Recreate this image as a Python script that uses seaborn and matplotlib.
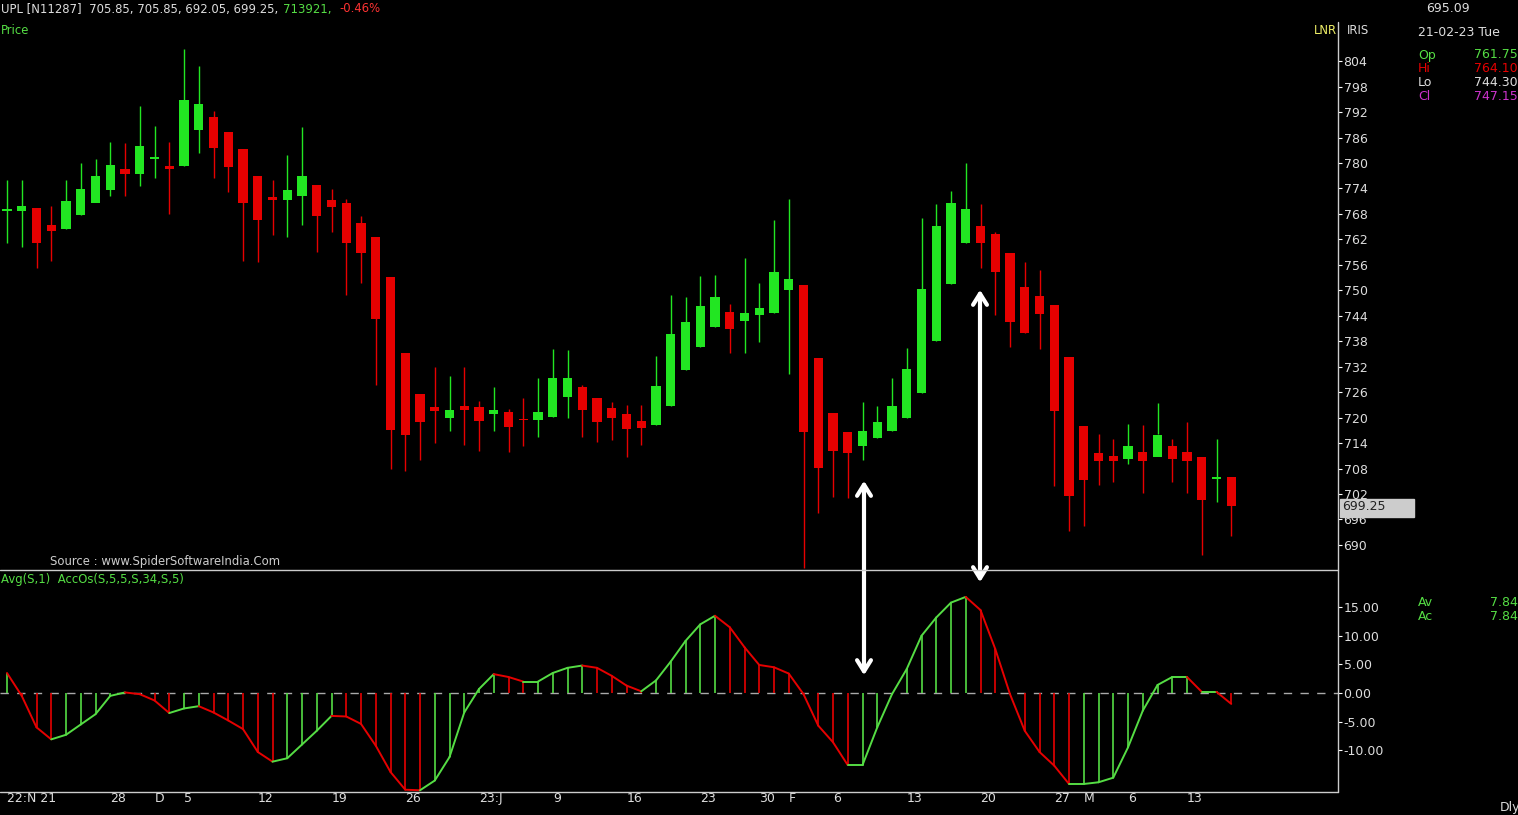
import numpy as np
import pandas as pd
import matplotlib
matplotlib.use("Agg")
import matplotlib.pyplot as plt
import seaborn as sns

# ---- data ----
opens = [768.9,768.7,769.4,765.4,764.4,767.7,770.6,773.6,778.6,777.4,781.2,779.3,779.3,787.8,790.8,787.3,783.3,776.9,772.0,771.3,772.2,774.8,771.3,770.6,765.8,762.6,753.1,735.2,725.6,722.5,720.0,722.8,722.5,720.9,721.3,719.7,719.5,720.2,724.9,727.2,724.6,722.3,720.9,719.2,718.3,722.8,731.2,736.6,741.4,744.9,742.8,744.2,744.7,750.1,751.2,734.1,721.1,716.6,713.3,715.2,716.9,719.9,725.8,738.1,751.5,761.1,765.1,763.3,758.8,750.8,748.7,746.5,734.3,718.0,711.7,711.0,710.3,711.9,710.7,713.3,711.9,710.7,705.8,706.0]
closes = [769.1,769.9,761.1,764.0,771.0,773.9,776.9,779.5,777.4,784.0,781.3,778.6,794.9,793.9,783.5,779.0,770.6,766.6,771.3,773.6,776.9,767.5,769.6,761.1,758.8,743.2,717.1,716.0,719.0,721.6,721.8,721.8,719.2,721.8,717.8,719.6,721.3,729.3,729.3,721.8,719.0,720.0,717.3,717.6,727.5,739.7,742.5,746.3,748.4,740.9,744.7,745.8,754.3,752.6,716.6,708.2,712.2,711.6,716.9,718.9,722.8,731.5,750.3,765.1,770.6,769.1,761.1,754.3,742.5,739.9,744.4,721.6,701.6,705.3,709.8,709.8,713.3,709.8,715.9,710.3,709.8,700.6,706.0,699.25]
highs = [776.0,776.0,769.4,769.9,776.0,780.0,780.9,784.9,784.7,793.4,788.7,784.9,806.8,802.8,792.2,787.3,783.3,776.9,776.0,781.9,788.5,774.8,773.9,771.5,767.5,762.6,753.1,735.2,725.6,731.9,729.8,731.9,723.9,727.2,722.0,724.6,729.3,736.2,735.9,727.7,724.6,723.7,723.0,723.0,734.6,748.9,748.4,753.4,753.6,746.8,757.7,751.8,766.6,771.5,751.2,734.1,721.1,716.6,723.7,722.8,729.3,736.4,767.0,770.3,773.4,780.0,770.4,763.7,758.8,756.7,754.9,746.5,734.3,718.0,716.1,714.9,718.5,718.3,723.5,715.0,719.0,710.7,715.0,705.85]
lows = [761.1,760.2,755.3,756.9,764.4,767.7,772.2,772.2,772.2,774.6,776.4,768.0,779.3,782.3,776.4,773.2,756.9,756.7,763.0,762.6,765.4,759.0,763.7,748.9,751.7,727.7,707.9,707.5,710.0,714.0,716.9,713.6,712.2,716.9,711.9,713.3,715.5,720.2,719.9,715.5,714.3,714.8,710.7,713.6,718.3,722.8,731.2,736.6,741.4,735.2,735.2,737.8,744.7,730.3,684.6,697.6,701.3,701.1,710.0,715.2,716.9,719.9,725.8,738.1,751.5,761.1,755.3,744.2,736.6,739.9,736.2,703.9,693.3,694.5,704.1,704.9,709.1,702.3,716.1,704.9,702.3,687.7,700.1,692.05]
osc = [3.5,-0.5,-6.0,-8.1,-7.3,-5.5,-3.7,-0.5,0.1,-0.2,-1.3,-3.5,-2.7,-2.3,-3.4,-4.8,-6.3,-10.3,-12.0,-11.4,-9.0,-6.6,-4.0,-4.1,-5.4,-9.2,-13.8,-16.9,-17.0,-15.3,-11.2,-3.4,0.7,3.3,2.8,2.0,2.0,3.5,4.4,4.8,4.4,3.0,1.3,0.3,2.2,5.5,9.1,12.0,13.5,11.5,8.0,4.9,4.5,3.4,-0.2,-5.7,-8.6,-12.6,-12.6,-6.0,-0.2,4.2,10.0,13.2,15.8,16.8,14.5,7.7,-0.2,-6.6,-10.3,-12.7,-15.9,-15.9,-15.6,-14.8,-9.5,-3.1,1.4,2.8,2.8,0.2,0.2,-1.9]
price_ticks = [690,696,702,708,714,720,726,732,738,744,750,756,762,768,774,780,786,792,798,804]
osc_ticks = [15,10,5,0,-5,-10]
date_pos = [0,7,10,12,17,22,27,32,37,42,47,51,53,56,61,66,71,73,76,80]
date_lab = ["22:N 21","28","D","5","12","19","26","23:J","9","16","23","30","F","6","13","20","27","M","6","13"]

GREEN = "#22e622"
RED = "#e60000"
LGREEN = "#55dd44"
sns.set_theme(style="dark", rc={"axes.facecolor": "black", "figure.facecolor": "black"})
plt.rcParams['font.family'] = ['DejaVu Sans']

W, H = 1518, 815
fig = plt.figure(figsize=(W / 100, H / 100), dpi=100)
axL = 1338 / W
ax = fig.add_axes([0, 1 - 570 / H, axL, 570 / H])
ax2 = fig.add_axes([0, 1 - 792 / H, axL, 222 / H])

df = pd.DataFrame({"o": opens, "c": closes, "h": highs, "l": lows})
df["i"] = np.arange(len(df))
xlim = (-7 / 14.75, (1338 - 7) / 14.75)
for a in (ax, ax2):
    a.set_facecolor("black")
    a.set_xlim(*xlim)
    a.grid(False)
    for s in a.spines.values():
        s.set_visible(False)
    a.set_xticks([])
    a.yaxis.tick_right()

for _, r in df.iterrows():
    col = GREEN if r.c >= r.o else RED
    ax.vlines(r.i, r.l, r.h, color=col, lw=1)
    lo, hi = min(r.o, r.c), max(r.o, r.c)
    ax.bar(r.i, max(hi - lo, 0.35), bottom=lo if hi - lo >= 0.35 else lo - 0.17, width=0.62, color=col, lw=0)
ax.set_ylim(684.1, 818.4)
ax.set_yticks(price_ticks)
ax.set_yticklabels([str(t) for t in price_ticks])
ax.tick_params(axis="y", colors="white", labelcolor="#dddddd", labelsize=9, length=3, pad=1, direction="out", width=0.8)

# oscillator
od = pd.DataFrame({"i": np.arange(len(osc)), "v": osc})
ax2.axhline(0, color="#aaaaaa", lw=1, dashes=(6, 6))
for k in range(len(osc)):
    up = k == 0 or osc[k] >= osc[k - 1]
    col = LGREEN if up else RED
    ax2.vlines(k, 0, osc[k], color=col, lw=1.2)
    if k > 0:
        sns.lineplot(x=od.i[k - 1:k + 1], y=od.v[k - 1:k + 1], ax=ax2, color=col, lw=1.4, legend=False)
ax2.set_xlabel("")
ax2.set_ylabel("")
ax2.set_ylim(-17.3, 21.5)
ax2.set_yticks(osc_ticks)
ax2.set_yticklabels([f"{t:.2f}" for t in osc_ticks])
ax2.tick_params(axis="y", colors="white", labelcolor="#dddddd", labelsize=9, length=3, pad=1, width=0.8)
ax2.set_xticks([])

# frame lines
fig.add_artist(plt.Line2D([0, axL], [1 - 570 / H] * 2, color="#cccccc", lw=1))
fig.add_artist(plt.Line2D([0, axL], [1 - 792 / H] * 2, color="#cccccc", lw=1))
fig.add_artist(plt.Line2D([axL, axL], [1 - 792 / H, 1 - 22 / H], color="#cccccc", lw=1))

for p, lab in zip(date_pos, date_lab):
    ax2.text(p, -17.3, lab, transform=ax2.transData, color="#dddddd", fontsize=9, ha="left", va="top")

def ft(x, y, s, c="#dddddd", ha="left", size=9, **kw):
    fig.text(x / W, 1 - y / H, s, color=c, ha=ha, va="center", fontsize=size, **kw)

ft(1, 9, "UPL [N11287]  705.85, 705.85, 692.05, 699.25,", "#dddddd", size=8.4)
ft(283, 9, "713921,", LGREEN, size=8.4)
ft(339, 9, "-0.46%", "#ff3333", size=8.4)
ft(1, 31, "Price", LGREEN, size=8.4)
ft(50, 561, "Source : www.SpiderSoftwareIndia.Com", "#cccccc", size=8.4)
ft(1, 579, "Avg(S,1)  AccOs(S,5,5,S,34,S,5)", LGREEN, size=8.4)
ft(1314, 31, "LNR", "#eeee66", size=8.4)
ft(1347, 31, "IRIS", "#dddddd", size=8.4)
ft(1426, 9, "695.09", "#dddddd")
ft(1418, 33, "21-02-23 Tue", "#dddddd")
for y, lab, val, c in [(55, "Op", "761.75", LGREEN), (69, "Hi", "764.10", RED), (83, "Lo", "744.30", "#dddddd"), (97, "Cl", "747.15", "#cc33cc")]:
    ft(1418, y, lab, c)
    ft(1518, y, val, c, ha="right")
ft(1418, 603, "Av", LGREEN)
ft(1518, 603, "7.84", LGREEN, ha="right")
ft(1418, 617, "Ac", LGREEN)
ft(1518, 617, "7.84", LGREEN, ha="right")
ft(1500, 807, "Dly", "#dddddd")
fig.patches.append(plt.Rectangle((1340 / W, 1 - 517 / H), 74 / W, 18 / H, transform=fig.transFigure, color="#cccccc", zorder=0))
ft(1342, 507, "699.25", "#222222")

# white double arrows
for x, y1, y2 in [(864, 478, 678), (980, 287, 585)]:
    fig.add_artist(matplotlib.patches.FancyArrowPatch((x / W, 1 - y1 / H), (x / W, 1 - y2 / H), transform=fig.transFigure,
                   arrowstyle="<->,head_length=8,head_width=5", color="white", lw=3, mutation_scale=1))

fig.savefig("out.png", dpi=100, facecolor="black")
